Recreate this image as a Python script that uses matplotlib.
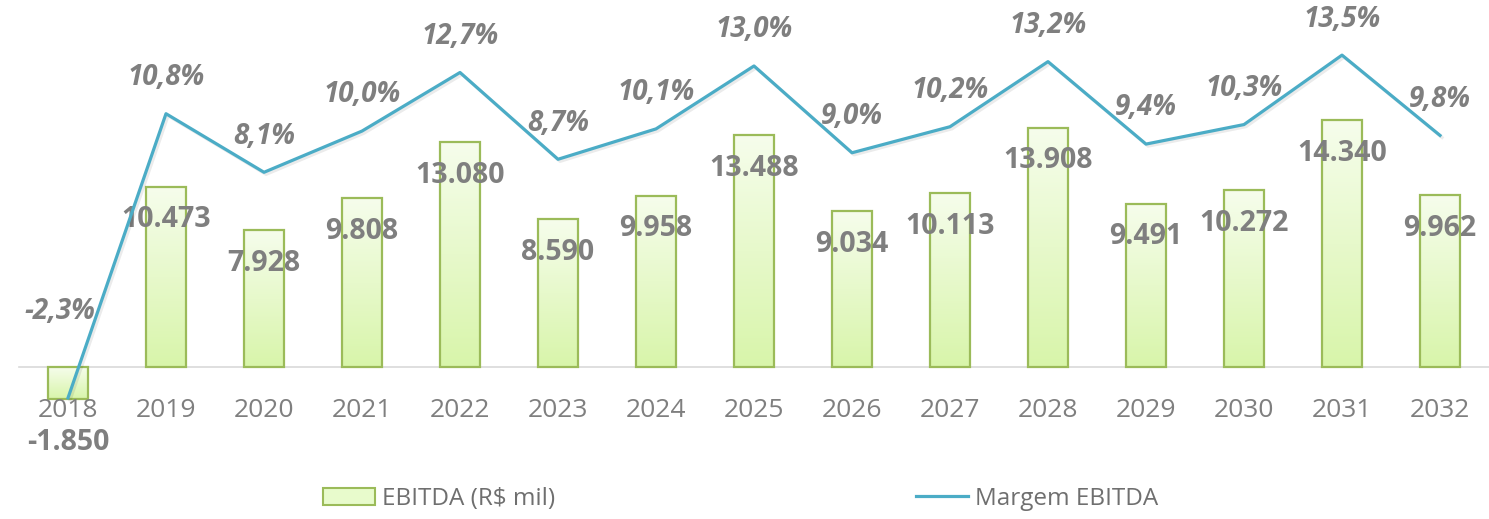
import matplotlib
matplotlib.use("Agg")
import matplotlib.pyplot as plt
import numpy as np
from matplotlib.colors import LinearSegmentedColormap
from matplotlib.patches import Patch
from matplotlib.lines import Line2D
import matplotlib.patheffects as pe

years = ["2018", "2019", "2020", "2021", "2022", "2023", "2024", "2025",
         "2026", "2027", "2028", "2029", "2030", "2031", "2032"]
ebitda = [-1850, 10473, 7928, 9808, 13080, 8590, 9958, 13488, 9034,
          10113, 13908, 9491, 10272, 14340, 9962]
margem = [-2.3, 10.8, 8.1, 10.0, 12.7, 8.7, 10.1, 13.0, 9.0, 10.2,
          13.2, 9.4, 10.3, 13.5, 9.8]

plt.rcParams['font.family'] = ['Open Sans', 'DejaVu Sans']
GRAY = '#7f7f7f'
GREEN_EDGE = '#9bbb59'
LINE = '#4bacc6'

fig = plt.figure(figsize=(14.89, 5.19), dpi=100)
ax = fig.add_axes([19 / 1489, 59 / 519, 1 - 19 / 1489, 450 / 519])
ax2 = ax.twinx()

x = np.arange(len(years))
bars = ax.bar(x, ebitda, width=0.4, facecolor='none', edgecolor=GREEN_EDGE,
              linewidth=1.6, zorder=3)

cmap = LinearSegmentedColormap.from_list('g', ['#d8f5aa', '#f6fdec'])
grad = np.linspace(0, 1, 256).reshape(-1, 1)
for b in bars:
    x0, y0 = b.get_x(), b.get_y()
    w, h = b.get_width(), b.get_height()
    ylo, yhi = min(y0, y0 + h), max(y0, y0 + h)
    im = ax.imshow(grad, cmap=cmap, aspect='auto', origin='lower',
                   extent=[x0, x0 + w, ylo, yhi], zorder=2)
    im.set_clip_path(b)

ax.set_xlim(-0.5, len(years) - 0.5)
ax.set_ylim(-5401, 20732)
ax2.set_ylim(-5.16, 15.58)

ax2.plot(x, margem, color=LINE, linewidth=2.3, zorder=4,
         path_effects=[pe.SimpleLineShadow(offset=(1.5, -1.5), alpha=0.08,
                                           shadow_color='black'),
                       pe.Normal()])

# spines / axes
for s in ['top', 'right', 'left']:
    ax.spines[s].set_visible(False)
for s in ax2.spines.values():
    s.set_visible(False)
ax.spines['bottom'].set_position(('data', 0))
ax.spines['bottom'].set_color('#d9d9d9')
ax.spines['bottom'].set_linewidth(1.2)
ax.spines['bottom'].set_zorder(1)
ax.set_yticks([])
ax2.set_yticks([])
ax.set_xticks(x)
ax.set_xticklabels(years, fontsize=19, color=GRAY)
ax.tick_params(axis='x', length=0, pad=22.5)
ax.xaxis.set_zorder(5)

# bar labels
for xi, v in zip(x, ebitda):
    txt = f"{v:,}".replace(",", ".")
    off = (0, -24) if v >= 0 else (0, -31.5)
    ax.annotate(txt, (xi, v), xytext=off, textcoords='offset points',
                ha='center', va='center', fontsize=20.5, fontweight='bold',
                color=GRAY, zorder=6)

# margin labels
for xi, m in zip(x, margem):
    txt = f"{m:.1f}%".replace(".", ",")
    off = (0, 26) if m >= 0 else (-6, 62)
    ax2.annotate(txt, (xi, m), xytext=off, textcoords='offset points',
                 ha='center', va='center', fontsize=20, fontweight='bold',
                 fontstyle='italic', color=GRAY, zorder=6)

# legend
handles = [Patch(facecolor='#e8fbcc', edgecolor=GREEN_EDGE, linewidth=1.5),
           Line2D([0], [0], color=LINE, linewidth=2.3)]
fig.legend(handles, ['EBITDA (R$ mil)', 'Margem EBITDA'], ncol=2,
           loc='center left', bbox_to_anchor=(323 / 1489, (519 - 499) / 519),
           frameon=False, fontsize=17.5, labelcolor='#6f6f6f',
           handlelength=2.14, handletextpad=0.29, columnspacing=14.86,
           handleheight=0.75, borderpad=0, borderaxespad=0)

fig.savefig('out.png', dpi=100)
